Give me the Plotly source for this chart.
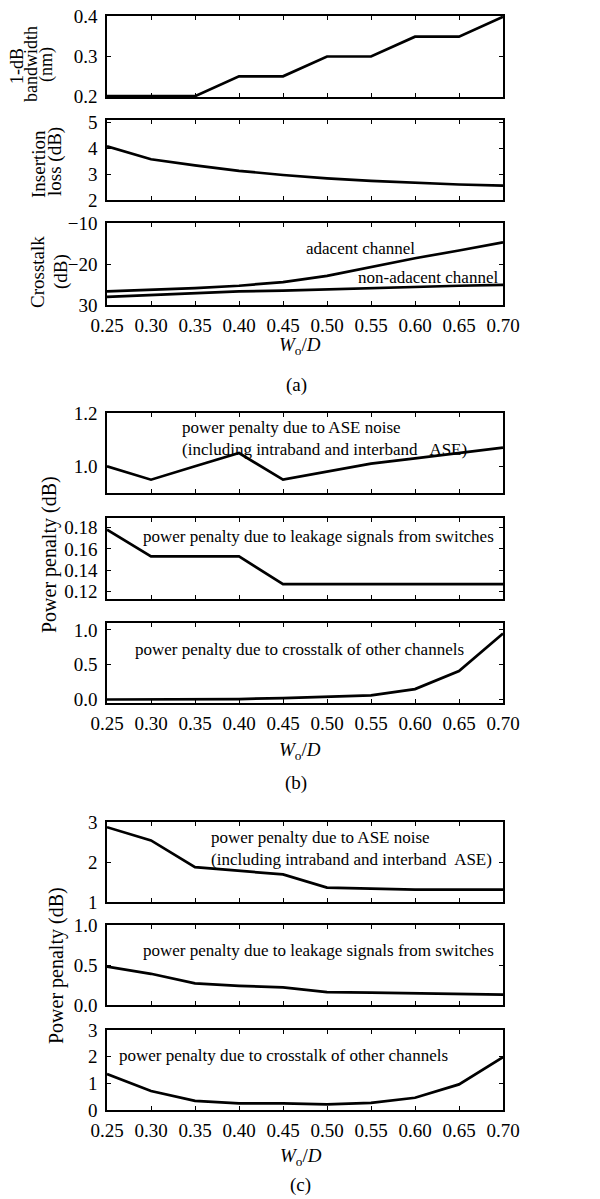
import plotly.graph_objects as go

# ---------------- data ----------------
wd = [0.25, 0.30, 0.35, 0.40, 0.45, 0.50, 0.55, 0.60, 0.65, 0.70]
x_ticks = [0.25, 0.30, 0.35, 0.40, 0.45, 0.50, 0.55, 0.60, 0.65, 0.70]

# (a)
bandwidth_nm = [0.20, 0.20, 0.20, 0.25, 0.25, 0.30, 0.30, 0.35, 0.35, 0.40]
insertion_loss_db = [4.08, 3.58, 3.34, 3.13, 2.97, 2.84, 2.74, 2.66, 2.60, 2.56]
xt_adjacent_db = [-26.7, -26.3, -25.9, -25.3, -24.4, -22.9, -20.8, -18.6, -16.7, -14.7]
xt_nonadjacent_db = [-28.0, -27.6, -27.1, -26.7, -26.5, -26.2, -25.8, -25.5, -25.3, -25.1]

# (b)
b_ase_pp = [1.00, 0.95, 1.00, 1.05, 0.95, 0.98, 1.01, 1.03, 1.05, 1.07]
b_leak_pp = [0.178, 0.153, 0.153, 0.153, 0.127, 0.127, 0.127, 0.127, 0.127, 0.127]
b_xt_pp = [0.0, 0.0, 0.0, 0.007, 0.02, 0.035, 0.06, 0.15, 0.41, 0.95]

# (c)
c_ase_pp = [2.87, 2.54, 1.87, 1.78, 1.69, 1.36, 1.33, 1.31, 1.31, 1.31]
c_leak_pp = [0.48, 0.39, 0.27, 0.24, 0.22, 0.16, 0.155, 0.146, 0.14, 0.13]
c_xt_pp = [1.35, 0.71, 0.34, 0.25, 0.25, 0.21, 0.27, 0.46, 0.96, 1.98]

# tick labels
ya1_ticks = [0.2, 0.3, 0.4]
ya2_ticks = [2, 3, 4, 5]
ya3_ticks = [-30, -20, -10]
ya3_text = ["30", "\u221220", "\u221210"]
yb1_ticks = [1.0, 1.2]
yb2_ticks = [0.12, 0.14, 0.16, 0.18]
yb3_ticks = [0.0, 0.5, 1.0]
yc1_ticks = [1, 2, 3]
yc2_ticks = [0.0, 0.5, 1.0]
yc3_ticks = [0, 1, 2, 3]

# ---------------- layout helpers ----------------
# the page body has an 8px default margin, so the figure is placed 8px in
OFF = 8
W, H = 600 - OFF, 1199 - OFF
FONT = "Liberation Serif, Times New Roman, serif"
X0, X1 = 107, 503


def fx(px):
    return (px - OFF) / W


def fy(py):
    return 1 - (py - OFF) / H


panels = [
    # (series list, top, bottom, yrange, tickvals, ticktext, tickformat, show x labels)
    ([bandwidth_nm], 16, 97, [0.198, 0.402], ya1_ticks, None, ".1f", False),
    ([insertion_loss_db], 120, 200, [2, 5.1], ya2_ticks, None, "d", False),
    ([xt_adjacent_db, xt_nonadjacent_db], 223, 305, [-30, -10], ya3_ticks, ya3_text, None, True),
    ([b_ase_pp], 413, 493, [0.9, 1.2], yb1_ticks, None, ".1f", False),
    ([b_leak_pp], 518, 599, [0.113, 0.189], yb2_ticks, None, ".2f", False),
    ([b_xt_pp], 623, 703, [-0.05, 1.1], yb3_ticks, None, ".1f", True),
    ([c_ase_pp], 822, 902, [1, 3], yc1_ticks, None, "d", False),
    ([c_leak_pp], 925, 1005, [0, 1], yc2_ticks, None, ".1f", False),
    ([c_xt_pp], 1030, 1110, [0, 3], yc3_ticks, None, "d", True),
]

fig = go.Figure()
layout = dict(
    width=W, height=H,
    margin=dict(l=0, r=0, t=0, b=0, pad=0, autoexpand=False),
    paper_bgcolor="white", plot_bgcolor="white",
    showlegend=False,
    font=dict(family=FONT, size=19, color="black"),
)

axis_common = dict(
    showline=True, linecolor="black", linewidth=1.6, mirror="allticks",
    ticks="inside", ticklen=4, tickwidth=1, tickcolor="black",
    showgrid=False, zeroline=False, automargin=False,
    ticklabeloverflow="allow",
    tickfont=dict(family=FONT, size=19, color="black"),
)

for i, (series, top, bot, yr, tv, tt, tf, showx) in enumerate(panels, start=1):
    sfx = "" if i == 1 else str(i)
    for s in series:
        fig.add_trace(go.Scatter(
            x=wd, y=s, mode="lines",
            line=dict(color="black", width=2.7),
            xaxis="x" + sfx, yaxis="y" + sfx, hoverinfo="skip",
        ))
    xa = dict(axis_common, domain=[fx(X0), fx(X1)], range=[0.25, 0.70],
              tickvals=x_ticks, tickformat=".2f", showticklabels=showx,
              anchor="y" + sfx, ticklabelstandoff=2)
    ya = dict(axis_common, domain=[fy(bot), fy(top)], range=yr, tickvals=tv,
              anchor="x" + sfx, ticklabelstandoff=4)
    if tt is not None:
        ya["ticktext"] = tt
    elif tf is not None:
        ya["tickformat"] = tf
    layout["xaxis" + sfx] = xa
    layout["yaxis" + sfx] = ya

fig.update_layout(**layout)

ann_font = dict(family=FONT, size=17, color="black")

# in-plot labels (data coordinates)
fig.add_annotation(x=0.5375, y=-16.1, xref="x3", yref="y3", text="adacent channel",
                   showarrow=False, font=ann_font)
fig.add_annotation(x=0.697, y=-23.4, xref="x3", yref="y3", text="non-adacent channel",
                   showarrow=False, font=ann_font, xanchor="right")
fig.add_annotation(x=0.333, y=1.104, xref="x4", yref="y4",
                   text="power penalty due to ASE noise<br>(including intraband and interband   ASE)",
                   showarrow=False, font=ann_font, xanchor="left", align="left")
fig.add_annotation(x=0.49, y=0.1712, xref="x5", yref="y5",
                   text="power penalty due to leakage signals from switches",
                   showarrow=False, font=ann_font)
fig.add_annotation(x=0.4693, y=0.712, xref="x6", yref="y6",
                   text="power penalty due to crosstalk of other channels",
                   showarrow=False, font=ann_font)
fig.add_annotation(x=0.366, y=2.35, xref="x7", yref="y7",
                   text="power penalty due to ASE noise<br>(including intraband and interband  ASE)",
                   showarrow=False, font=ann_font, xanchor="left", align="left")
fig.add_annotation(x=0.49, y=0.6875, xref="x8", yref="y8",
                   text="power penalty due to leakage signals from switches",
                   showarrow=False, font=ann_font)
fig.add_annotation(x=0.451, y=2.06, xref="x9", yref="y9",
                   text="power penalty due to crosstalk of other channels",
                   showarrow=False, font=ann_font)


def paper_ann(xp, yp, text, angle=0, size=19):
    fig.add_annotation(x=fx(xp), y=fy(yp), xref="paper", yref="paper", text=text,
                       showarrow=False, textangle=angle,
                       xanchor="center", yanchor="middle",
                       font=dict(family=FONT, size=size, color="black"))


# y-axis titles (rotated)
paper_ann(17, 66, "1-dB", -90, 18)
paper_ann(31, 64, "bandwidth", -90, 18)
paper_ann(47, 64, "(nm)", -90, 18)
paper_ann(38, 164, "Insertion", -90)
paper_ann(55, 162, "loss (dB)", -90)
paper_ann(37, 272, "Crosstalk", -90)
paper_ann(61, 272, "(dB)", -90)
paper_ann(49, 555, "Power penalty (dB)", -90, 20)
paper_ann(56, 966, "Power penalty (dB)", -90, 20)

# x-axis titles and panel captions
xtitle = "<i>W</i><sub>o</sub>/<i>D</i>"
paper_ann(300, 346, xtitle)
paper_ann(296, 385, "(a)")
paper_ann(300, 751, xtitle)
paper_ann(296, 783, "(b)")
paper_ann(301, 1157, xtitle)
paper_ann(300, 1185, "(c)")

fig.write_html("out.html")
